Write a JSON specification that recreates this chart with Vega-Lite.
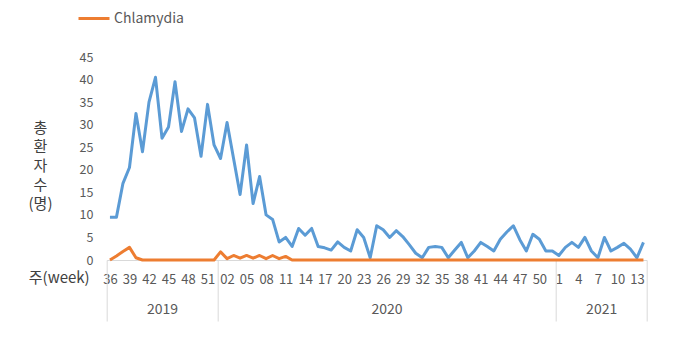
{
  "$schema": "https://vega.github.io/schema/vega-lite/v6.json",
  "width": 540,
  "height": 203,
  "autosize": "none",
  "padding": {"left": 106.7, "top": 57, "right": 35.3, "bottom": 82},
  "background": "white",
  "config": {
    "view": {"stroke": null},
    "font": "Noto Sans CJK KR",
    "axis": {"grid": false, "labelColor": "#595959", "titleColor": "#404040", "titleFontWeight": "normal"},
    "legend": {"labelColor": "#595959"}
  },
  "datasets": {
    "weekly": [
      {"key": "2019-36", "Total": 9.5, "Chlamydia": 0},
      {"key": "2019-37", "Total": 9.5, "Chlamydia": 0.9},
      {"key": "2019-38", "Total": 17, "Chlamydia": 1.9},
      {"key": "2019-39", "Total": 20.5, "Chlamydia": 2.8},
      {"key": "2019-40", "Total": 32.5, "Chlamydia": 0.5},
      {"key": "2019-41", "Total": 24, "Chlamydia": 0},
      {"key": "2019-42", "Total": 35, "Chlamydia": 0},
      {"key": "2019-43", "Total": 40.5, "Chlamydia": 0},
      {"key": "2019-44", "Total": 27, "Chlamydia": 0},
      {"key": "2019-45", "Total": 29.5, "Chlamydia": 0},
      {"key": "2019-46", "Total": 39.5, "Chlamydia": 0},
      {"key": "2019-47", "Total": 28.5, "Chlamydia": 0},
      {"key": "2019-48", "Total": 33.5, "Chlamydia": 0},
      {"key": "2019-49", "Total": 31.5, "Chlamydia": 0},
      {"key": "2019-50", "Total": 23, "Chlamydia": 0},
      {"key": "2019-51", "Total": 34.5, "Chlamydia": 0},
      {"key": "2019-52", "Total": 25.5, "Chlamydia": 0},
      {"key": "2020-01", "Total": 22.5, "Chlamydia": 1.8},
      {"key": "2020-02", "Total": 30.5, "Chlamydia": 0.3},
      {"key": "2020-03", "Total": 22.5, "Chlamydia": 1},
      {"key": "2020-04", "Total": 14.5, "Chlamydia": 0.4},
      {"key": "2020-05", "Total": 25.5, "Chlamydia": 1},
      {"key": "2020-06", "Total": 12.5, "Chlamydia": 0.4},
      {"key": "2020-07", "Total": 18.5, "Chlamydia": 1},
      {"key": "2020-08", "Total": 10, "Chlamydia": 0.3},
      {"key": "2020-09", "Total": 9, "Chlamydia": 1},
      {"key": "2020-10", "Total": 4, "Chlamydia": 0.3},
      {"key": "2020-11", "Total": 5, "Chlamydia": 0.8},
      {"key": "2020-12", "Total": 3, "Chlamydia": 0},
      {"key": "2020-13", "Total": 7, "Chlamydia": 0},
      {"key": "2020-14", "Total": 5.5, "Chlamydia": 0},
      {"key": "2020-15", "Total": 7, "Chlamydia": 0},
      {"key": "2020-16", "Total": 3, "Chlamydia": 0},
      {"key": "2020-17", "Total": 2.7, "Chlamydia": 0},
      {"key": "2020-18", "Total": 2.2, "Chlamydia": 0},
      {"key": "2020-19", "Total": 4, "Chlamydia": 0},
      {"key": "2020-20", "Total": 2.8, "Chlamydia": 0},
      {"key": "2020-21", "Total": 2, "Chlamydia": 0},
      {"key": "2020-22", "Total": 6.7, "Chlamydia": 0},
      {"key": "2020-23", "Total": 5, "Chlamydia": 0},
      {"key": "2020-24", "Total": 0.5, "Chlamydia": 0},
      {"key": "2020-25", "Total": 7.6, "Chlamydia": 0},
      {"key": "2020-26", "Total": 6.7, "Chlamydia": 0},
      {"key": "2020-27", "Total": 5, "Chlamydia": 0},
      {"key": "2020-28", "Total": 6.5, "Chlamydia": 0},
      {"key": "2020-29", "Total": 5.2, "Chlamydia": 0},
      {"key": "2020-30", "Total": 3.4, "Chlamydia": 0},
      {"key": "2020-31", "Total": 1.5, "Chlamydia": 0},
      {"key": "2020-32", "Total": 0.5, "Chlamydia": 0},
      {"key": "2020-33", "Total": 2.8, "Chlamydia": 0},
      {"key": "2020-34", "Total": 3, "Chlamydia": 0},
      {"key": "2020-35", "Total": 2.8, "Chlamydia": 0},
      {"key": "2020-36", "Total": 0.5, "Chlamydia": 0},
      {"key": "2020-37", "Total": 2.2, "Chlamydia": 0},
      {"key": "2020-38", "Total": 3.9, "Chlamydia": 0},
      {"key": "2020-39", "Total": 0.5, "Chlamydia": 0},
      {"key": "2020-40", "Total": 2, "Chlamydia": 0},
      {"key": "2020-41", "Total": 3.9, "Chlamydia": 0},
      {"key": "2020-42", "Total": 3, "Chlamydia": 0},
      {"key": "2020-43", "Total": 2, "Chlamydia": 0},
      {"key": "2020-44", "Total": 4.6, "Chlamydia": 0},
      {"key": "2020-45", "Total": 6.2, "Chlamydia": 0},
      {"key": "2020-46", "Total": 7.6, "Chlamydia": 0},
      {"key": "2020-47", "Total": 4.5, "Chlamydia": 0},
      {"key": "2020-48", "Total": 2, "Chlamydia": 0},
      {"key": "2020-49", "Total": 5.7, "Chlamydia": 0},
      {"key": "2020-50", "Total": 4.6, "Chlamydia": 0},
      {"key": "2020-51", "Total": 2, "Chlamydia": 0},
      {"key": "2020-52", "Total": 2, "Chlamydia": 0},
      {"key": "2021-1", "Total": 1, "Chlamydia": 0},
      {"key": "2021-2", "Total": 2.8, "Chlamydia": 0},
      {"key": "2021-3", "Total": 3.9, "Chlamydia": 0},
      {"key": "2021-4", "Total": 2.8, "Chlamydia": 0},
      {"key": "2021-5", "Total": 5, "Chlamydia": 0},
      {"key": "2021-6", "Total": 2, "Chlamydia": 0},
      {"key": "2021-7", "Total": 0.5, "Chlamydia": 0},
      {"key": "2021-8", "Total": 5, "Chlamydia": 0},
      {"key": "2021-9", "Total": 2, "Chlamydia": 0},
      {"key": "2021-10", "Total": 2.8, "Chlamydia": 0},
      {"key": "2021-11", "Total": 3.7, "Chlamydia": 0},
      {"key": "2021-12", "Total": 2.4, "Chlamydia": 0},
      {"key": "2021-13", "Total": 0.5, "Chlamydia": 0},
      {"key": "2021-14", "Total": 3.9, "Chlamydia": 0}
    ],
    "years": [
      {"year": "2019", "start": 0, "mid": 8.5},
      {"year": "2020", "start": 17, "mid": 43},
      {"year": "2021", "start": 69, "mid": 76}
    ]
  },
  "layer": [
    {
      "data": {"name": "weekly"},
      "transform": [{"fold": ["Total", "Chlamydia"], "as": ["series", "cases"]}],
      "mark": {"type": "line", "strokeWidth": 3, "strokeJoin": "round"},
      "encoding": {
        "x": {
          "field": "key",
          "type": "ordinal",
          "sort": null,
          "scale": {"type": "point", "padding": 0.5},
          "axis": {
            "values": ["2019-36", "2019-39", "2019-42", "2019-45", "2019-48", "2019-51", "2020-02", "2020-05", "2020-08", "2020-11", "2020-14", "2020-17", "2020-20", "2020-23", "2020-26", "2020-29", "2020-32", "2020-35", "2020-38", "2020-41", "2020-44", "2020-47", "2020-50", "2021-1", "2021-4", "2021-7", "2021-10", "2021-13"],
            "labelExpr": "split(datum.value, '-')[1]",
            "labelAngle": 0,
            "labelOverlap": false,
            "labelFontSize": 13,
            "labelPadding": 19,
            "labelBaseline": "middle",
            "ticks": false,
            "tickSize": 0,
            "domainColor": "#d9d9d9",
            "title": "주(week)",
            "titleX": -48,
            "titleY": 17,
            "titleAlign": "center",
            "titleBaseline": "middle",
            "titleFontSize": 15
          }
        },
        "y": {
          "field": "cases",
          "type": "quantitative",
          "scale": {"domain": [0, 45], "nice": false},
          "axis": {
            "values": [0, 5, 10, 15, 20, 25, 30, 35, 40, 45],
            "domain": false,
            "ticks": false,
            "labelPadding": 13.7,
            "labelFontSize": 12.5,
            "title": ["총", "환", "자", "수", "(명)"],
            "titleAngle": 0,
            "titleX": -66.7,
            "titleY": 63,
            "titleAlign": "center",
            "titleBaseline": "top",
            "titleLineHeight": 19,
            "titleFontSize": 15
          }
        },
        "color": {
          "field": "series",
          "type": "nominal",
          "scale": {"domain": ["Total", "Chlamydia"], "range": ["#5B9BD5", "#ED7D31"]},
          "legend": {
            "values": ["Chlamydia"],
            "orient": "none",
            "legendX": -29.7,
            "legendY": -55.5,
            "title": null,
            "padding": 0,
            "symbolType": "stroke",
            "symbolSize": 961,
            "symbolStrokeWidth": 3,
            "labelFontSize": 14,
            "labelOffset": 3
          }
        }
      }
    },
    {
      "data": {"name": "years"},
      "mark": {"type": "point", "opacity": 0},
      "encoding": {
        "x": {
          "field": "start",
          "type": "quantitative",
          "scale": {"domain": [0, 83], "nice": false, "zero": false},
          "axis": {
            "orient": "bottom",
            "values": [0, 17, 69, 83],
            "labels": false,
            "domain": false,
            "ticks": true,
            "tickSize": 61,
            "tickColor": "#d9d9d9",
            "title": null
          }
        }
      }
    },
    {
      "data": {"name": "years"},
      "mark": {"type": "point", "opacity": 0},
      "encoding": {
        "x": {
          "field": "mid",
          "type": "quantitative",
          "scale": {"domain": [0, 83], "nice": false, "zero": false},
          "axis": {
            "orient": "bottom",
            "values": [8.5, 43, 76],
            "labelExpr": "datum.value < 17 ? '2019' : datum.value < 69 ? '2020' : '2021'",
            "labelFlush": false,
            "labelAngle": 0,
            "labelFontSize": 14,
            "labelPadding": 49,
            "labelBaseline": "middle",
            "ticks": false,
            "tickSize": 0,
            "domain": false,
            "title": null
          }
        }
      }
    }
  ],
  "resolve": {"scale": {"x": "independent"}, "axis": {"x": "independent"}}
}
